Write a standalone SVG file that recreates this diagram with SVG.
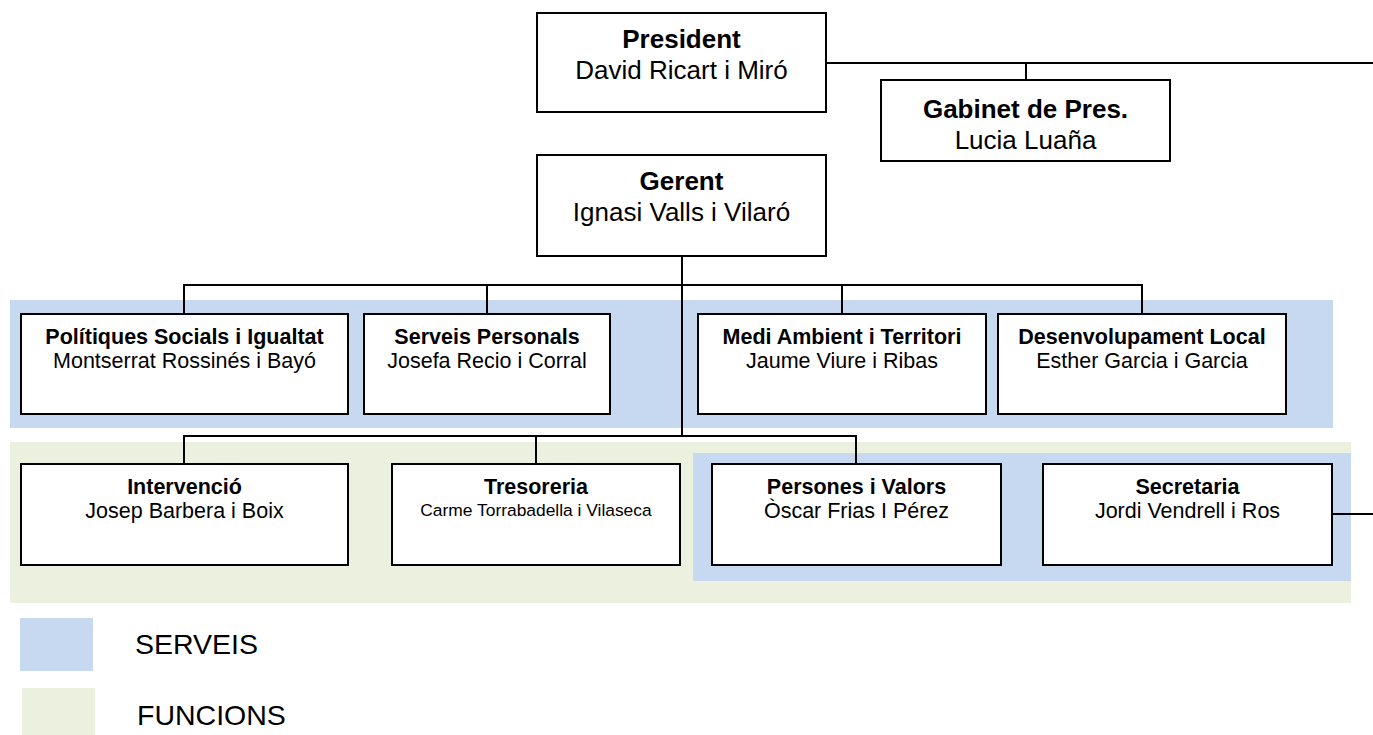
<svg xmlns="http://www.w3.org/2000/svg" width="1373" height="735" viewBox="0 0 1373 735">
<style>
.box{fill:#fff;stroke:#000;stroke-width:2}
.ln{fill:none;stroke:#000;stroke-width:2}
text{font-family:"Liberation Sans",Arial,sans-serif;fill:#000;text-anchor:middle}
.tb{font-weight:bold;font-size:26px}
.tn{font-size:26px}
.rb{font-weight:bold;font-size:21.5px}
.rn{font-size:21.5px}
.sn{font-size:17.4px}
.lg{font-size:28.5px;text-anchor:start}
.serv{fill:#C6D9F1}
.func{fill:#EBF1DE}
</style>
<rect class="serv" x="10" y="300" width="1323" height="128"/>
<rect class="func" x="10" y="442" width="1341" height="161"/>
<rect class="serv" x="693" y="453" width="658" height="128"/>
<g id="connectors">
<path class="ln" d="M826 63H1373M1026 63V80"/>
<path class="ln" d="M682 256V436"/>
<path class="ln" d="M184 314V285H1142V314M487 285V314M842 285V314"/>
<path class="ln" d="M184 464V436H856V464M536 436V464"/>
<path class="ln" d="M1332 514H1373"/>
</g>
<g id="president"><rect class="box" x="537" y="13" width="289" height="99"/><text class="tb" x="681.5" y="48">President</text><text class="tn" x="681.5" y="79">David Ricart i Miró</text></g>
<g id="gabinet"><rect class="box" x="881" y="80" width="289" height="81"/><text class="tb" x="1025.5" y="118">Gabinet de Pres.</text><text class="tn" x="1025.5" y="149">Lucia Luaña</text></g>
<g id="gerent"><rect class="box" x="537" y="155" width="289" height="101"/><text class="tb" x="681.5" y="190">Gerent</text><text class="tn" x="681.5" y="221">Ignasi Valls i Vilaró</text></g>
<g id="politiques"><rect class="box" x="21" y="314" width="327" height="100"/><text class="rb" x="184.5" y="344">Polítiques Socials i Igualtat</text><text class="rn" x="184.5" y="368">Montserrat Rossinés i Bayó</text></g>
<g id="serveis-personals"><rect class="box" x="364" y="314" width="246" height="100"/><text class="rb" x="487" y="344">Serveis Personals</text><text class="rn" x="487" y="368">Josefa Recio i Corral</text></g>
<g id="medi-ambient"><rect class="box" x="698" y="314" width="288" height="100"/><text class="rb" x="842" y="344">Medi Ambient i Territori</text><text class="rn" x="842" y="368">Jaume Viure i Ribas</text></g>
<g id="desenvolupament"><rect class="box" x="998" y="314" width="288" height="100"/><text class="rb" x="1142" y="344">Desenvolupament Local</text><text class="rn" x="1142" y="368">Esther Garcia i Garcia</text></g>
<g id="intervencio"><rect class="box" x="21" y="464" width="327" height="101"/><text class="rb" x="184.5" y="494">Intervenció</text><text class="rn" x="184.5" y="518">Josep Barbera i Boix</text></g>
<g id="tresoreria"><rect class="box" x="392" y="464" width="288" height="101"/><text class="rb" x="536" y="494">Tresoreria</text><text class="sn" x="536" y="516">Carme Torrabadella i Vilaseca</text></g>
<g id="persones-valors"><rect class="box" x="712" y="464" width="289" height="101"/><text class="rb" x="856.5" y="494">Persones i Valors</text><text class="rn" x="856.5" y="518">Òscar Frias I Pérez</text></g>
<g id="secretaria"><rect class="box" x="1043" y="464" width="289" height="101"/><text class="rb" x="1187.5" y="494">Secretaria</text><text class="rn" x="1187.5" y="518">Jordi Vendrell i Ros</text></g>
<g id="legend">
<rect class="serv" x="20" y="618" width="73" height="53"/><text class="lg" x="135" y="654">SERVEIS</text>
<rect class="func" x="22" y="688" width="73" height="47"/><text class="lg" x="137" y="725">FUNCIONS</text>
</g>
</svg>
